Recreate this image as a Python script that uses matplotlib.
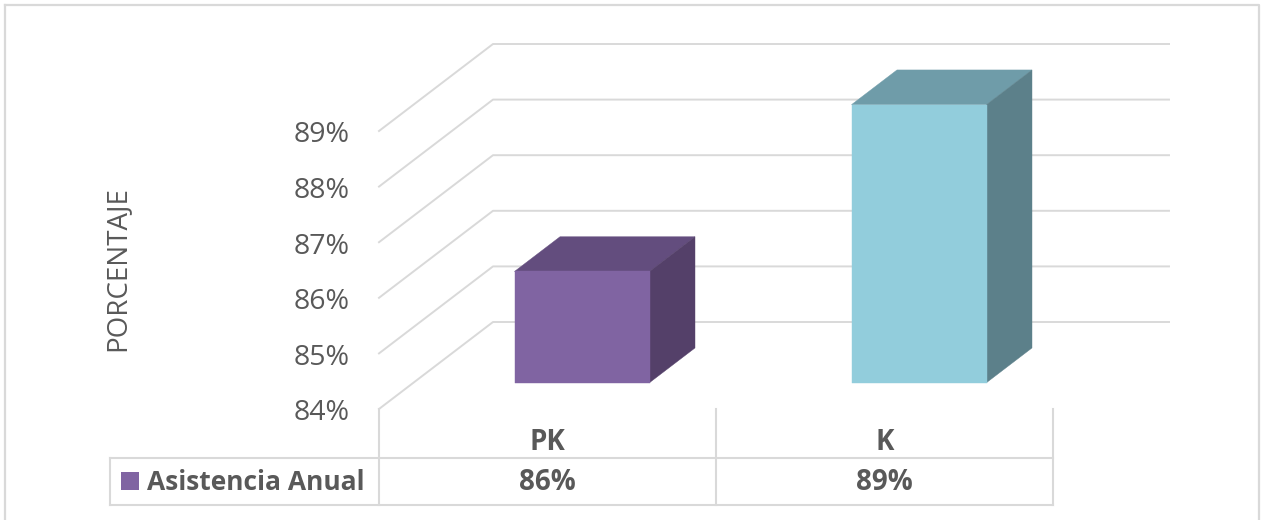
import matplotlib
matplotlib.use('Agg')
import matplotlib.pyplot as plt
from matplotlib.patches import Polygon, Rectangle
from matplotlib.lines import Line2D
from matplotlib.transforms import ScaledTranslation

W, H = 1261, 520

# Datos
categorias = ['PK', 'K']
asistencia = [86, 89]
ticks_y = [84, 85, 86, 87, 88, 89]
serie = 'Asistencia Anual'
titulo_y = 'PORCENTAJE'

GRIS = '#d9d9d9'
TEXTO = '#595959'
plt.rcParams['font.family'] = ['Open Sans', 'DejaVu Sans']


def px(x, y):
    # pixeles de la imagen -> coordenadas de figura
    return x / W, 1 - y / H


def linea_fig(fig, xs, ys, lw=1.5):
    p = [px(x, y) for x, y in zip(xs, ys)]
    fig.add_artist(Line2D([a[0] for a in p], [a[1] for a in p], color=GRIS, lw=lw))


fig = plt.figure(figsize=(W / 100, H / 100), dpi=100, facecolor='white')

# El eje coincide con el plano frontal: 84 en y=409, 89 en y=131
ax = fig.add_axes([379 / W, 1 - 409 / H, (1053 - 379) / W, (409 - 131) / H])
ax.set_xlim(-0.5, len(categorias) - 0.5)
ax.set_ylim(ticks_y[0], ticks_y[-1])
ax.patch.set_alpha(0)
for s in ax.spines.values():
    s.set_visible(False)
ax.set_xticks([])
ax.set_yticks(ticks_y)
ax.set_yticklabels([f'{t}%' for t in ticks_y], fontsize=20.5, color=TEXTO)
ax.tick_params(axis='y', length=0, pad=21.5)
# las etiquetas van un poco por debajo de la linea
bajar = ScaledTranslation(0, -1 / 100, fig.dpi_scale_trans)
for lab in ax.get_yticklabels():
    lab.set_transform(lab.get_transform() + bajar)

# tamaño de un pixel en unidades de datos
ux = (ax.get_xlim()[1] - ax.get_xlim()[0]) / 674
uy = (ax.get_ylim()[1] - ax.get_ylim()[0]) / 278
prof_x, prof_y = 114 * ux, 87 * uy
ext_der = 116 * ux


def proy(x, v, d):
    # d = profundidad entre 0 (frente) y 1 (fondo)
    return x + prof_x * d, v + prof_y * d


# Rejilla: pared lateral y pared del fondo
x0 = ax.get_xlim()[0]
x1 = ax.get_xlim()[1]
for t in ticks_y:
    a = proy(x0, t, 0)
    b = proy(x0, t, 1)
    c = (x1 + ext_der, b[1])
    ax.add_line(Line2D([a[0], b[0], c[0]], [a[1], b[1], c[1]], color=GRIS, lw=1.4,
                       clip_on=False, zorder=1))

# Barras 3D
colores = [('#8064a2', '#634d7e', '#544069'), ('#92cddc', '#6f9ca9', '#5c808a')]
d1, d2 = 34.5 / 114, 80 / 114
ancho = 135 * ux
for i, v in enumerate(asistencia):
    front, top, side = colores[i]
    xl, xr = i - ancho / 2, i + ancho / 2
    caras = [
        ([proy(xl, v, d1), proy(xr, v, d1), proy(xr, v, d2), proy(xl, v, d2)], top),
        ([proy(xr, ticks_y[0], d1), proy(xr, v, d1), proy(xr, v, d2), proy(xr, ticks_y[0], d2)], side),
        ([proy(xl, ticks_y[0], d1), proy(xr, ticks_y[0], d1), proy(xr, v, d1), proy(xl, v, d1)], front),
    ]
    for pts, col in caras:
        ax.add_patch(Polygon(pts, closed=True, facecolor=col, edgecolor=col, lw=0.3,
                             clip_on=False, zorder=3))

# Titulo del eje
fig.text(*px(117, 269), titulo_y, rotation=90, fontsize=20, color=TEXTO,
         ha='center', va='center')

# Tabla de datos
for x in (379, 716, 1053):
    linea_fig(fig, [x, x], [409, 505])
linea_fig(fig, [110, 110], [458, 505])
linea_fig(fig, [110, 1053], [458, 458])
linea_fig(fig, [110, 1053], [505, 505])

for i, (c, v) in enumerate(zip(categorias, asistencia)):
    xc = 547.5 + 337 * i
    fig.text(*px(xc, 443), c, fontsize=20, fontweight='bold', color=TEXTO, ha='center', va='center')
    fig.text(*px(xc, 482), f'{v}%', fontsize=20, fontweight='bold', color=TEXTO, ha='center', va='center')

fig.add_artist(Rectangle(px(121, 490), 18 / W, 18 / H, transform=fig.transFigure,
                         facecolor=colores[0][0], edgecolor='none'))
fig.text(*px(147, 483), serie, fontsize=19, fontweight='bold', color=TEXTO, ha='left', va='center')

# Marco del grafico
linea_fig(fig, [5, 1259, 1259], [5, 5, 520], lw=1.6)
linea_fig(fig, [5, 5], [5, 520], lw=1.6)

fig.savefig('out.png', dpi=100)
